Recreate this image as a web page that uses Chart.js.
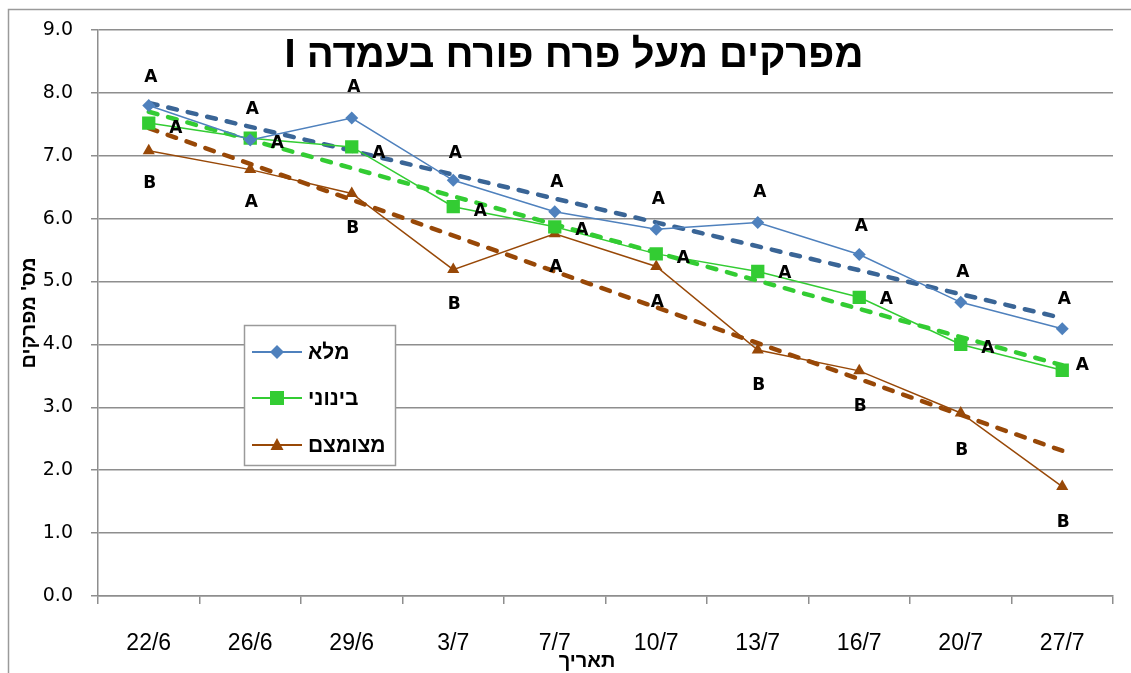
<!DOCTYPE html>
<html><head><meta charset="utf-8">
<script src="https://cdn.jsdelivr.net/npm/chart.js@4.4.1/dist/chart.umd.min.js"></script>
<style>html,body{margin:0;padding:0;background:#fff;} #wrap{width:1131px;height:673px;position:relative;}</style>
</head><body><div id="wrap"><canvas id="c"></canvas></div>
<script>
// ---- data ----
const categories = ['22/6','26/6','29/6','3/7','7/7','10/7','13/7','16/7','20/7','27/7'];
const seriesNames = ['מלא','בינוני','מצומצם'];
const fullValues   = [7.80, 7.25, 7.60, 6.61, 6.11, 5.83, 5.94, 5.43, 4.67, 4.25];
const mediumValues = [7.52, 7.28, 7.14, 6.19, 5.87, 5.44, 5.16, 4.75, 4.00, 3.59];
const reducedValues= [7.08, 6.78, 6.40, 5.19, 5.76, 5.24, 3.91, 3.58, 2.91, 1.74];
// trend lines: read start/end values only
const fullTrend    = [7.84, null, null, null, null, null, null, null, null, 4.42];
const mediumTrend  = [7.70, null, null, null, null, null, null, null, null, 3.67];
const reducedTrend = [7.44, null, null, null, null, null, null, null, null, 2.31];
// significance letters and where they sit (in value units)
const fullLetters    = ['A','A','A','A','A','A','A','A','A','A'];
const fullLetterAt   = [8.24, 7.73, 8.08, 7.04, 6.57, 6.31, 6.41, 5.87, 5.15, 4.72];
const mediumLetters  = ['A','A','A','A','A','A','A','A','A','A'];
const mediumLetterAt = [7.44, 7.19, 7.04, 6.11, 5.81, 5.37, 5.12, 4.71, 3.94, 3.66];
const reducedLetters = ['B','A','B','B','A','A','B','B','B','B'];
const reducedLetterAt= [6.55, 6.25, 5.84, 4.63, 5.22, 4.67, 3.34, 3.01, 2.32, 1.16];
const yTicks = [0,1,2,3,4,5,6,7,8,9];
const titleText = 'מפרקים מעל פרח פורח בעמדה I';
const yTitle = "מס' מפרקים";
const xTitle = 'תאריך';

// ---- styles ----
const BLUE = '#4F81BD', BLUE_TREND = '#3A6596', GREEN = '#33CC33', BROWN = '#984807';
const GRID = '#8e8e8e';
const HEB = '"Liberation Sans", Arimo, Arial, "DejaVu Sans", sans-serif';

const decor = {
  id: 'decor',
  beforeDraw(chart) {
    const ctx = chart.ctx; ctx.save();
    ctx.fillStyle = '#fff'; ctx.fillRect(0, 0, chart.width, chart.height);
    ctx.strokeStyle = '#9a9a9a'; ctx.lineWidth = 1.5;
    ctx.strokeRect(8.5, 9.5, 1300, 900);
    ctx.restore();
  },
  afterDraw(chart) {
    const ctx = chart.ctx, xs = chart.scales.x, ys = chart.scales.y;
    ctx.save();
    // letters
    ctx.fillStyle = '#000'; ctx.font = 'bold 17px "DejaVu Sans", sans-serif';
    ctx.textAlign = 'center'; ctx.textBaseline = 'middle';
    const groups = [[fullLetters, fullLetterAt, 2], [mediumLetters, mediumLetterAt, 27], [reducedLetters, reducedLetterAt, 1]];
    groups.forEach(([letters, at, dx]) => {
      letters.forEach((t, i) => {
        let d = dx; if (dx === 27 && i === letters.length - 1) d = 20;
        ctx.fillText(t, xs.getPixelForValue(i) + d, ys.getPixelForValue(at[i]));
      });
    });
    // title
    ctx.direction = 'rtl';
    ctx.font = 'bold 40px ' + HEB;
    ctx.textAlign = 'center';
    ctx.fillText(titleText, 574, 56);
    // axis titles
    ctx.font = 'bold 20px ' + HEB;
    ctx.fillText(xTitle, 587, 661);
    ctx.save(); ctx.translate(29, 313); ctx.rotate(-Math.PI / 2);
    ctx.fillText(yTitle, 0, 0); ctx.restore();
    // legend
    ctx.direction = 'ltr';
    ctx.fillStyle = '#fff'; ctx.fillRect(244, 325, 152, 141);
    ctx.strokeStyle = '#9a9a9a'; ctx.lineWidth = 1.5; ctx.strokeRect(244.5, 325.5, 151, 140);
    const items = [[BLUE, 'diamond', 352], [GREEN, 'square', 398], [BROWN, 'triangle', 445]];
    items.forEach(([col, shape, y], k) => {
      ctx.strokeStyle = col; ctx.lineWidth = 2;
      ctx.beginPath(); ctx.moveTo(252, y); ctx.lineTo(302, y); ctx.stroke();
      ctx.fillStyle = col; ctx.beginPath();
      const cx = 277;
      if (shape === 'diamond') { ctx.moveTo(cx - 7, y); ctx.lineTo(cx, y - 7); ctx.lineTo(cx + 7, y); ctx.lineTo(cx, y + 7); }
      else if (shape === 'square') { ctx.rect(cx - 7, y - 7, 14, 14); }
      else { ctx.moveTo(cx, y - 7); ctx.lineTo(cx + 6.5, y + 5); ctx.lineTo(cx - 6.5, y + 5); }
      ctx.closePath(); ctx.fill();
      ctx.fillStyle = '#000'; ctx.font = 'bold 21px ' + HEB;
      ctx.direction = 'rtl'; ctx.textAlign = 'left'; ctx.textBaseline = 'middle';
      ctx.fillText(seriesNames[k], 308, y + 1);
      ctx.direction = 'ltr';
    });
    ctx.restore();
  }
};

const dataLine = (label, data, color, style, radius) => ({
  label, data, borderColor: color, backgroundColor: color, borderWidth: 1.5,
  pointStyle: style, pointRadius: radius, pointHoverRadius: radius, pointBorderWidth: 0,
  pointBackgroundColor: color, tension: 0, fill: false
});
const trendLine = (label, data, color) => ({
  label, data, borderColor: color, borderWidth: 4.5, borderDash: [9, 11], borderCapStyle: 'round',
  pointRadius: 0, spanGaps: true, tension: 0, fill: false
});

new Chart(document.getElementById('c'), {
  type: 'line',
  data: {
    labels: categories,
    datasets: [
      dataLine(seriesNames[0], fullValues, BLUE, 'rectRot', 6.5),
      dataLine(seriesNames[1], mediumValues, GREEN, 'rect', 9.4),
      dataLine(seriesNames[2], reducedValues, BROWN, 'triangle', 7),
      trendLine('trend ' + seriesNames[0], fullTrend, BLUE_TREND),
      trendLine('trend ' + seriesNames[1], mediumTrend, GREEN),
      trendLine('trend ' + seriesNames[2], reducedTrend, BROWN)
    ]
  },
  options: {
    responsive: true, maintainAspectRatio: false, animation: false, devicePixelRatio: 1,
    layout: { padding: { left: 0, top: 30, right: 18, bottom: 0 } },
    plugins: { legend: { display: false }, tooltip: { enabled: false }, title: { display: false } },
    scales: {
      x: {
        type: 'category', offset: true,
        grid: { offset: true, drawOnChartArea: false, drawTicks: true, tickLength: 8, color: GRID, lineWidth: 1.5 },
        border: { color: GRID, width: 1.5 },
        ticks: { color: '#000', font: { family: '"Liberation Sans", Arial, sans-serif', size: 23 }, padding: 26, maxRotation: 0, autoSkip: false },
        afterFit: s => { s.height = 77; }
      },
      y: {
        min: yTicks[0], max: yTicks[yTicks.length - 1],
        afterBuildTicks: s => { s.ticks = yTicks.map(v => ({ value: v })); },
        grid: { color: GRID, lineWidth: 1.5, tickLength: 7 },
        border: { color: GRID, width: 1.5 },
        ticks: { color: '#000', font: { family: '"DejaVu Sans", sans-serif', size: 19 }, padding: 18, callback: v => Number(v).toFixed(1) },
        afterFit: s => { s.width = 98; }
      }
    }
  },
  plugins: [decor]
});
</script>
</body></html>
